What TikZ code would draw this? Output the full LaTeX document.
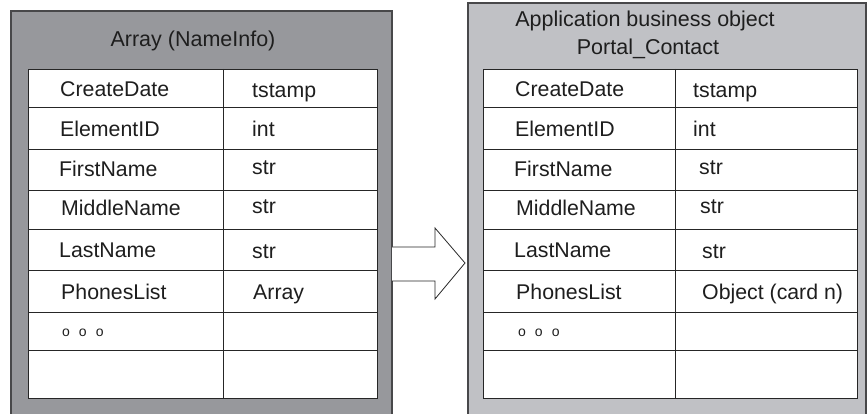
\documentclass[tikz,border=0pt]{standalone}
\usepackage{fontspec}
\setmainfont{Liberation Sans}
\definecolor{panelA}{HTML}{97989C}
\definecolor{panelB}{HTML}{C0C1C5}
\definecolor{edgec}{HTML}{48484A}
\definecolor{rulec}{HTML}{262626}
\definecolor{txt}{HTML}{1E1E1E}
\begin{document}
\begin{tikzpicture}[x=1pt,y=-1pt,
  panel/.style={draw=edgec, line width=1.3pt},
  tbl/.style={draw=rulec, line width=0.9pt},
  cell/.style={font=\fontsize{21.3}{24}\selectfont, anchor=base west, inner sep=0pt, text=txt},
  ttl/.style={font=\fontsize{21.5}{28}\selectfont, anchor=base, inner sep=0pt, text=txt},
  dots/.style={font=\fontsize{14}{16}\selectfont, anchor=base west, inner sep=0pt, text=txt},
  arrowshape/.style={draw=rulec, line width=0.8pt, fill=white, line join=miter}]
\useasboundingbox (0,0) rectangle (868,414);
\fill[white] (0,0) rectangle (868,414);

% left panel
\draw[panel, fill=panelA] (11,420) -- (11,11) -- (392,11) -- (392,420);
\fill[white] (28,69) rectangle (377,398);
\draw[tbl] (28,69) rectangle (377,398);
\draw[tbl] (223,69) -- (223,398);
\foreach \yy in {107,149,190,229,270,312,350} \draw[tbl] (28,\yy) -- (377,\yy);
\node[ttl] (ltitle) at (193,47) {Array (NameInfo)};
\node[cell] (l1) at (60,97) {CreateDate};
\node[cell] (l2) at (60,137) {ElementID};
\node[cell] (l3) at (59,177) {FirstName};
\node[cell] (l4) at (61,216) {MiddleName};
\node[cell] (l5) at (59,258) {LastName};
\node[cell] (l6) at (61,300) {PhonesList};
\node[dots] (l7) at (62,337) {o\hspace{9pt}o\hspace{9pt}o};
\node[cell] (t1) at (252,98) {tstamp};
\node[cell] (t2) at (252,137) {int};
\node[cell] (t3) at (252,175) {str};
\node[cell] (t4) at (252,214) {str};
\node[cell] (t5) at (252,259) {str};
\node[cell] (t6) at (253,300) {Array};

% right panel
\draw[panel, fill=panelB] (468,420) -- (468,3) -- (866,3) -- (866,420);
\fill[white] (483,69) rectangle (857,398);
\draw[tbl] (483,69) rectangle (857,398);
\draw[tbl] (675,69) -- (675,398);
\foreach \yy in {107,149,190,229,270,312,350} \draw[tbl] (483,\yy) -- (857,\yy);
\node[ttl] (rtitle1) at (645,27) {Application business object};
\node[ttl] (rtitle2) at (648,55) {Portal\_Contact};
\node[cell] (r1) at (515,97) {CreateDate};
\node[cell] (r2) at (515,137) {ElementID};
\node[cell] (r3) at (514,177) {FirstName};
\node[cell] (r4) at (516,216) {MiddleName};
\node[cell] (r5) at (514,258) {LastName};
\node[cell] (r6) at (516,300) {PhonesList};
\node[dots] (r7) at (518,337) {o\hspace{9pt}o\hspace{9pt}o};
\node[cell] (s1) at (693,98) {tstamp};
\node[cell] (s2) at (693,137) {int};
\node[cell] (s3) at (699,175) {str};
\node[cell] (s4) at (700,214) {str};
\node[cell] (s5) at (702,259) {str};
\node[cell] (s6) at (702,300) {Object (card n)};

% arrow
\draw[arrowshape] (392,247) -- (435,247) -- (435,228) -- (465,263) -- (435,299) -- (435,281) -- (392,281);
\end{tikzpicture}
\end{document}
